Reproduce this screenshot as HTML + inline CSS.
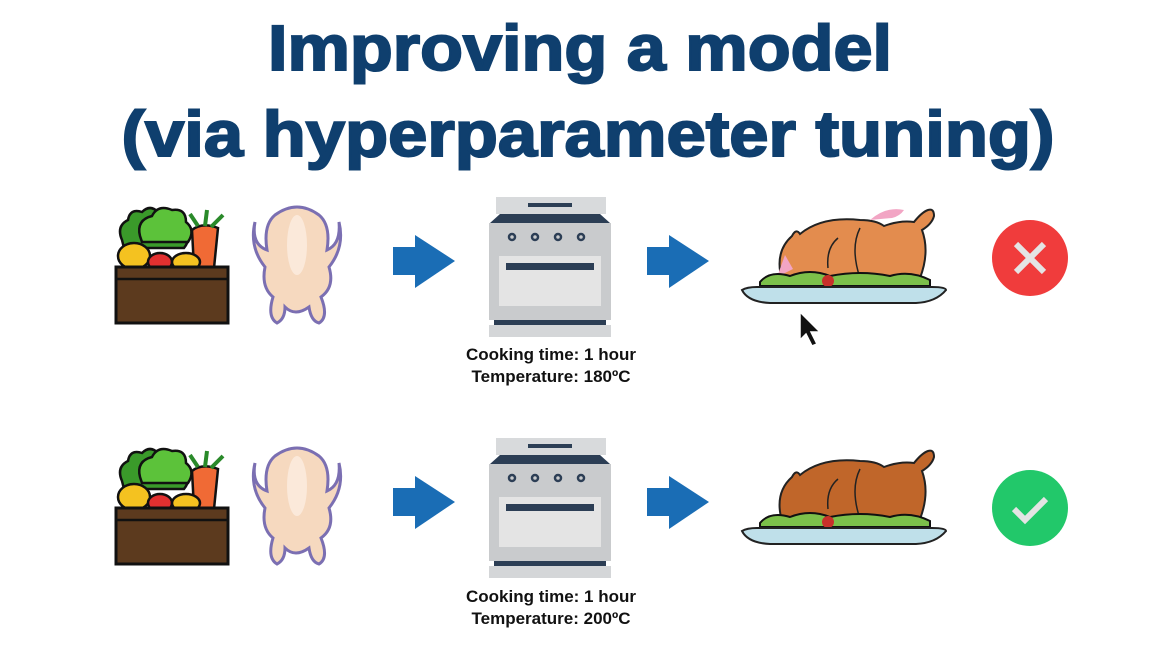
<!DOCTYPE html>
<html><head><meta charset="utf-8"><style>
html,body{margin:0;padding:0;background:#fff;}
svg{display:block;}
text{font-family:"Liberation Sans",sans-serif;}
</style></head><body>
<svg width="1160" height="664" viewBox="0 0 1160 664">
<defs>
<g id="veg">
  <path d="M122 240 q-6-14 6-20 q2-12 14-8 q8-8 16 0 q10-6 16 4 q12 0 10 14 q8 8 0 18 l-60 0 z" fill="#3a9a2a" stroke="#111" stroke-width="2.5"/>
  <path d="M140 236 q-4-16 12-20 q6-12 20-6 q14-2 14 12 q10 8 2 20 l-46 0 z" fill="#5cc23a" stroke="#111" stroke-width="2.5"/>
  <path d="M192 230 q10-8 26-2 l-4 40 l-20 0 z" fill="#f06a35" stroke="#111" stroke-width="2.5"/>
  <path d="M198 226 l-8-12 M205 226 l2-16 M211 227 l12-12" stroke="#2a8a2a" stroke-width="4"/>
  <ellipse cx="134" cy="256" rx="16" ry="13" fill="#f4c220" stroke="#111" stroke-width="2.5"/>
  <ellipse cx="160" cy="262" rx="12" ry="9" fill="#e23030" stroke="#111" stroke-width="2.5"/>
  <ellipse cx="186" cy="262" rx="14" ry="9" fill="#f4c220" stroke="#111" stroke-width="2.5"/>
  <rect x="116" y="267" width="112" height="56" fill="#5c3a1e" stroke="#111" stroke-width="3"/>
  <line x1="116" y1="279" x2="228" y2="279" stroke="#111" stroke-width="2.5"/>
</g>
<g id="chicken">
  <path d="M275 215 q-12 10-8 35 q-16-6-12-28 q-6 25 10 45 q-4 20 8 30 q-6 20 4 26 q8-4 8-16 q10 10 24 0 q2 14 10 16 q10-6 2-26 q14-10 8-30 q16-20 10-45 q2 22-12 28 q4-25-8-35 q-22-16-44 0z" fill="#f6d9bf" stroke="#7b6fb2" stroke-width="3"/>
  <ellipse cx="297" cy="245" rx="10" ry="30" fill="#fbe9da"/>
</g>
<g id="arrow"><rect x="0" y="12" width="22" height="28" fill="#1a6db5"/><polygon points="22,0 62,26 22,53" fill="#1a6db5"/></g>
<g id="oven">
  <rect x="496" y="197" width="110" height="17" fill="#d8dadc"/>
  <rect x="528" y="203" width="44" height="4" fill="#2c3e55"/>
  <polygon points="500,214 600,214 610,223 490,223" fill="#2c3e55"/>
  <rect x="489" y="223" width="122" height="97" fill="#c9cbcd"/>
  <rect x="499" y="256" width="102" height="50" fill="#e4e4e4"/>
  <rect x="506" y="263" width="88" height="7" fill="#2c3e55"/>
  <g fill="none" stroke="#2c3e55" stroke-width="2.5"><circle cx="512" cy="237" r="3"/><circle cx="535" cy="237" r="3"/><circle cx="558" cy="237" r="3"/><circle cx="581" cy="237" r="3"/></g>
  <rect x="494" y="320" width="112" height="5" fill="#2c3e55"/>
  <rect x="489" y="325" width="122" height="12" fill="#d4d6d8"/>
</g>
<path id="turkey" d="M782 280 q-8-28 10-44 q4-8 8-2 q22-18 60-14 q16 0 24 6 q16-6 30-4 q8-10 14-12 q6-2 6 6 q-2 8-12 14 q8 22-2 48 z"/>
<g id="plate">
  <path d="M760 282 q10-12 30-6 q20-8 40 0 q30-6 60 0 q20-6 40 4 l0 6 l-170 0z" fill="#7cc04a" stroke="#111" stroke-width="2"/>
  <circle cx="828" cy="281" r="6" fill="#c8302a"/>
  <path d="M742 290 q5-3 15-3 l175 0 q14 0 14 3 q-10 12-30 13 l-146 0 q-22-1-28-13z" fill="#bfe0ea" stroke="#222" stroke-width="2"/>
</g>
</defs>

<text x="580" y="70" text-anchor="middle" font-size="64" font-weight="bold" fill="#0f3f6e" stroke="#0f3f6e" stroke-width="2" textLength="624" lengthAdjust="spacingAndGlyphs">Improving a model</text>
<text x="588" y="156" text-anchor="middle" font-size="64" font-weight="bold" fill="#0f3f6e" stroke="#0f3f6e" stroke-width="2" textLength="933" lengthAdjust="spacingAndGlyphs">(via hyperparameter tuning)</text>

<g>
  <use href="#veg"/>
  <use href="#chicken"/>
  <use href="#arrow" x="393" y="235"/>
  <use href="#oven"/>
  <use href="#arrow" x="647" y="235"/>
  <g>
    <use href="#turkey" fill="#e38c4e" stroke="#222" stroke-width="2"/>
    <path d="M785 255 l-8 22 l16-8z" fill="#f2a5c4"/>
    <path d="M870 220 q16-14 34-10 q-4 6-12 8 z" fill="#f2a5c4"/>
    <path d="M860 228 q-10 20 0 50 M838 238 q-12 10-10 30" fill="none" stroke="#222" stroke-width="1.5"/>
    <use href="#plate"/>
  </g>
  <circle cx="1030" cy="258" r="38" fill="#f03c3c"/>
  <path d="M1016 244 L1044 272 M1044 244 L1016 272" stroke="#e4e4e4" stroke-width="6"/>
  <text x="551" y="360" text-anchor="middle" font-size="17" font-weight="bold" fill="#111">Cooking time: 1 hour</text>
  <text x="551" y="382" text-anchor="middle" font-size="17" font-weight="bold" fill="#111">Temperature: 180ºC</text>
  <path d="M800 312 l0 28 l6-6 l6 12 l5-2 l-6-12 l9 0z" fill="#111" stroke="#fff" stroke-width="1.5"/>
</g>

<g transform="translate(0,241)">
  <use href="#veg"/>
  <use href="#chicken"/>
  <use href="#arrow" x="393" y="235"/>
  <use href="#oven"/>
  <use href="#arrow" x="647" y="235"/>
  <g>
    <use href="#turkey" fill="#c0662a" stroke="#222" stroke-width="2"/>
    <path d="M860 228 q-10 20 0 50 M838 238 q-12 10-10 30" fill="none" stroke="#222" stroke-width="1.5"/>
    <use href="#plate"/>
  </g>
  <circle cx="1030" cy="267" r="38" fill="#22c86a"/>
  <path d="M1014 268 L1025 279 L1046 258" fill="none" stroke="#e4e4e4" stroke-width="6"/>
  <text x="551" y="361" text-anchor="middle" font-size="17" font-weight="bold" fill="#111">Cooking time: 1 hour</text>
  <text x="551" y="383" text-anchor="middle" font-size="17" font-weight="bold" fill="#111">Temperature: 200ºC</text>
</g>
</svg>
</body></html>
